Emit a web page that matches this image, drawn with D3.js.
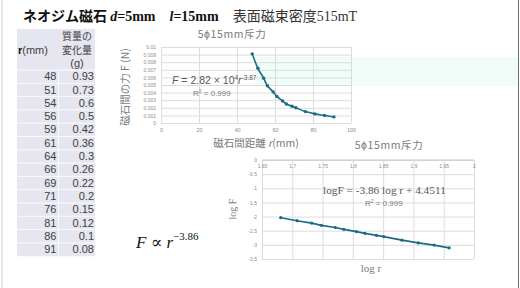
<!DOCTYPE html>
<html>
<head>
<meta charset="utf-8">
<script src="https://cdn.jsdelivr.net/npm/d3@7"></script>
<style>
  body { margin: 0; background: #fff; }
  svg { display: block; }
  .tick text { font-family: "Liberation Sans", sans-serif; fill: #8c8c8c; }
</style>
</head>
<body>
<svg width="520" height="288"></svg>
<script>
'use strict';

// table / measured values
var rMm = [48, 51, 54, 56, 59, 61, 64, 66, 69, 71, 76, 81, 86, 91];
var massG = [0.93, 0.73, 0.6, 0.5, 0.42, 0.36, 0.3, 0.26, 0.22, 0.2, 0.15, 0.12, 0.1, 0.08];
// force (N)
var forceN = [0.0091, 0.0072, 0.0059, 0.0049, 0.0041, 0.0035, 0.0029, 0.0025, 0.0022, 0.0020, 0.0015, 0.0012, 0.0010, 0.0008];
// points of the log-log chart
var logR = [1.681, 1.708, 1.732, 1.748, 1.771, 1.785, 1.806, 1.820, 1.839, 1.851, 1.881, 1.908, 1.934, 1.959];
var logF = [-2.04, -2.145, -2.231, -2.31, -2.386, -2.452, -2.532, -2.594, -2.666, -2.708, -2.833, -2.93, -3.009, -3.106];

var forceTicks = [0, 0.001, 0.002, 0.003, 0.004, 0.005, 0.006, 0.007, 0.008, 0.009, 0.01];
var distTicks = [0, 20, 40, 60, 80, 100];
var logRTicks = [1.65, 1.7, 1.75, 1.8, 1.85, 1.9, 1.95, 2];
var logFTicks = [0, -0.5, -1, -1.5, -2, -2.5, -3, -3.5];

var svg = d3.select('svg');
var JP = '"Noto Sans CJK JP", sans-serif';
var SANS = '"Liberation Sans", sans-serif';
var SERIF = '"Liberation Serif", "DejaVu Serif", serif';
var LINE = '#1d6a87';

// frame edges
svg.append('line').attr('x1', 2).attr('x2', 2).attr('y1', 0).attr('y2', 288).attr('stroke', '#d0d0d0');
svg.append('line').attr('x1', 518.5).attr('x2', 518.5).attr('y1', 0).attr('y2', 288).attr('stroke', '#6e6e6e');

// faint highlight band
svg.append('rect').attr('x', 255).attr('y', 57).attr('width', 263).attr('height', 29).attr('fill', '#effcf8');

// title
var title = svg.append('text').attr('x', 23).attr('y', 21).attr('fill', '#111').attr('font-size', 14);
title.append('tspan').attr('font-family', JP).attr('font-weight', 'bold').text('ネオジム磁石 ');
title.append('tspan').attr('font-family', SERIF).attr('font-weight', 'bold').attr('font-style', 'italic').text('d');
title.append('tspan').attr('font-family', SERIF).attr('font-weight', 'bold').text('=5mm');
title.append('tspan').attr('dx', 14).attr('font-family', SERIF).attr('font-weight', 'bold').attr('font-style', 'italic').text('l');
title.append('tspan').attr('font-family', SERIF).attr('font-weight', 'bold').text('=15mm');
title.append('tspan').attr('dx', 14).attr('font-family', JP).attr('fill', '#333').text('表面磁束密度');
title.append('tspan').attr('font-family', SERIF).attr('fill', '#333').text('515mT');

// ---------- table ----------
var rowH = 13.3, tableX = 17, tableW = 78, bodyTop = 70;
var table = svg.append('g').attr('font-size', 11).attr('fill', '#404040');
table.append('rect').attr('x', tableX).attr('y', 29).attr('width', tableW)
  .attr('height', bodyTop - 29 + rowH * rMm.length).attr('fill', '#e6e6f0');
table.append('text').attr('x', 77).attr('y', 40).attr('text-anchor', 'middle').attr('font-family', JP).attr('font-size', 10).text('質量の');
table.append('text').attr('x', 77).attr('y', 54).attr('text-anchor', 'middle').attr('font-family', JP).attr('font-size', 10).text('変化量');
table.append('text').attr('x', 77).attr('y', 67).attr('text-anchor', 'middle').attr('font-family', SANS).text('(g)');
var rh = table.append('text').attr('x', 18).attr('y', 54).attr('font-family', SANS);
rh.append('tspan').attr('font-weight', 'bold').attr('fill', '#111').text('r');
rh.append('tspan').text('(mm)');

var rows = table.selectAll('g.row').data(rMm).enter().append('g')
  .attr('class', 'row')
  .attr('transform', (d, i) => `translate(0, ${bodyTop + i * rowH})`);
rows.append('line').attr('x1', tableX).attr('x2', tableX + tableW).attr('y1', 0).attr('y2', 0).attr('stroke', '#fff').attr('stroke-width', 0.8);
rows.append('text').attr('x', 56.5).attr('y', rowH - 3).attr('text-anchor', 'end')
  .attr('font-family', SANS).text(d => d);
rows.append('text').attr('x', 94).attr('y', rowH - 3).attr('text-anchor', 'end')
  .attr('font-family', SANS).text((d, i) => massG[i]);
table.append('line').attr('x1', 58.5).attr('x2', 58.5).attr('y1', bodyTop).attr('y2', bodyTop + rowH * rMm.length).attr('stroke', '#fff').attr('stroke-width', 0.8);

// ---------- chart 1 : F vs r ----------
var x1 = d3.scaleLinear().domain([0, 100]).range([161, 351]);
var y1 = d3.scaleLinear().domain([0, 0.01]).range([123, 47]);
var c1 = svg.append('g');

c1.append('g').attr('transform', `translate(0,${y1(0)})`)
  .call(d3.axisBottom(x1).tickValues(distTicks).tickSize(y1(0.01) - y1(0)).tickPadding(5))
  .call(g => g.select('.domain').remove())
  .call(g => g.selectAll('.tick line').attr('stroke', '#dcdcdc'))
  .call(g => g.selectAll('.tick text').attr('font-size', 5.5).attr('y', 5));
c1.append('g').attr('transform', `translate(${x1(0)},0)`)
  .call(d3.axisLeft(y1).tickValues(forceTicks).tickSize(x1(0) - x1(100)).tickPadding(4).tickFormat(d => +d.toFixed(3)))
  .call(g => g.select('.domain').remove())
  .call(g => g.selectAll('.tick line').attr('stroke', '#dcdcdc'))
  .call(g => g.selectAll('.tick text').attr('font-size', 5).attr('x', -5));

var pts1 = rMm.map((r, i) => [x1(r), y1(forceN[i])]);
c1.append('path').attr('d', d3.line().curve(d3.curveCatmullRom)(pts1))
  .attr('fill', 'none').attr('stroke', LINE).attr('stroke-width', 1.6);
c1.selectAll('circle').data(pts1).enter().append('circle')
  .attr('cx', d => d[0]).attr('cy', d => d[1]).attr('r', 1.7).attr('fill', LINE);

c1.append('text').attr('x', 232).attr('y', 38).attr('text-anchor', 'middle').attr('letter-spacing', 0.6)
  .attr('font-family', JP).attr('font-size', 10.5).attr('fill', '#7a7a7a').text('5\u03d515mm斥力');
c1.append('text').attr('transform', 'translate(129,87) rotate(-90)').attr('text-anchor', 'middle')
  .attr('font-family', JP).attr('font-size', 10.5).attr('fill', '#7a7a7a').text('磁石間の力 F (N)');
var xt1 = c1.append('text').attr('x', 256).attr('y', 147).attr('text-anchor', 'middle')
  .attr('font-family', JP).attr('font-size', 10.5).attr('fill', '#7a7a7a');
xt1.append('tspan').text('磁石間距離 ');
xt1.append('tspan').attr('font-style', 'italic').text('r');
xt1.append('tspan').text('(mm)');

var eq1 = c1.append('text').attr('x', 172).attr('y', 84).attr('font-family', SANS)
  .attr('font-size', 10.5).attr('fill', '#595959');
eq1.append('tspan').attr('font-style', 'italic').text('F');
eq1.append('tspan').text(' = 2.82 \u00d7 10');
eq1.append('tspan').attr('font-size', 6.5).attr('dy', -4.5).text('4');
eq1.append('tspan').attr('font-style', 'italic').attr('dy', 4.5).text('r');
eq1.append('tspan').attr('font-size', 6.5).attr('dy', -4.5).text('-3.87');
var r1 = c1.append('text').attr('x', 193).attr('y', 96).attr('font-family', SANS)
  .attr('font-size', 8).attr('fill', '#7a7a7a');
r1.append('tspan').text('R');
r1.append('tspan').attr('font-size', 5).attr('dy', -3).text('2');
r1.append('tspan').attr('dy', 3).text(' = 0.999');

// ---------- chart 2 : log F vs log r ----------
var x2 = d3.scaleLinear().domain([1.65, 2]).range([262, 474]);
var y2 = d3.scaleLinear().domain([-3.5, 0]).range([259, 160]);
var c2 = svg.append('g');

c2.append('g').attr('transform', `translate(0,${y2(0)})`)
  .call(d3.axisBottom(x2).tickValues(logRTicks).tickSize(y2(-3.5) - y2(0)).tickPadding(4).tickFormat(d => +d.toFixed(2)))
  .call(g => g.select('.domain').remove())
  .call(g => g.selectAll('.tick line').attr('stroke', '#dcdcdc'))
  .call(g => g.selectAll('.tick text').attr('font-size', 5).attr('y', 4));
c2.append('g').attr('transform', `translate(${x2(1.65)},0)`)
  .call(d3.axisLeft(y2).tickValues(logFTicks).tickSize(x2(1.65) - x2(2)).tickPadding(4).tickFormat(d => d))
  .call(g => g.select('.domain').remove())
  .call(g => g.selectAll('.tick line').attr('stroke', '#dcdcdc'))
  .call(g => g.selectAll('.tick text').attr('font-size', 5).attr('x', -5));
c2.append('line').attr('x1', x2(1.65)).attr('x2', x2(2)).attr('y1', y2(0)).attr('y2', y2(0)).attr('stroke', '#c8c8c8');

var pts2 = logR.map((r, i) => [x2(r), y2(logF[i])]);
c2.append('path').attr('d', d3.line()(pts2))
  .attr('fill', 'none').attr('stroke', LINE).attr('stroke-width', 1.6);
c2.selectAll('circle').data(pts2).enter().append('circle')
  .attr('cx', d => d[0]).attr('cy', d => d[1]).attr('r', 1.6).attr('fill', LINE);

c2.append('text').attr('x', 389).attr('y', 149).attr('text-anchor', 'middle').attr('letter-spacing', 0.6)
  .attr('font-family', JP).attr('font-size', 10.5).attr('fill', '#7a7a7a').text('5\u03d515mm斥力');
c2.append('text').attr('transform', 'translate(236,209) rotate(-90)').attr('text-anchor', 'middle')
  .attr('font-family', SERIF).attr('font-size', 10).attr('fill', '#7a7a7a').text('log F');
c2.append('text').attr('x', 371).attr('y', 272).attr('text-anchor', 'middle')
  .attr('font-family', SERIF).attr('font-size', 11).attr('fill', '#7a7a7a').text('log r');
c2.append('text').attr('x', 323).attr('y', 194).attr('font-family', SERIF)
  .attr('font-size', 11.3).attr('fill', '#595959').text('logF = -3.86 log r + 4.4511');
var r2 = c2.append('text').attr('x', 365).attr('y', 206).attr('font-family', SANS)
  .attr('font-size', 8).attr('fill', '#7a7a7a');
r2.append('tspan').text('R');
r2.append('tspan').attr('font-size', 5).attr('dy', -3).text('2');
r2.append('tspan').attr('dy', 3).text(' = 0.999');

// proportionality note
var prop = svg.append('text').attr('x', 136).attr('y', 248).attr('font-family', SERIF)
  .attr('font-size', 17).attr('fill', '#111');
prop.append('tspan').attr('font-style', 'italic').text('F');
prop.append('tspan').text(' \u221d ');
prop.append('tspan').attr('font-style', 'italic').text('r');
prop.append('tspan').attr('font-size', 11).attr('dy', -8).text('\u22123.86');
</script>
</body>
</html>
